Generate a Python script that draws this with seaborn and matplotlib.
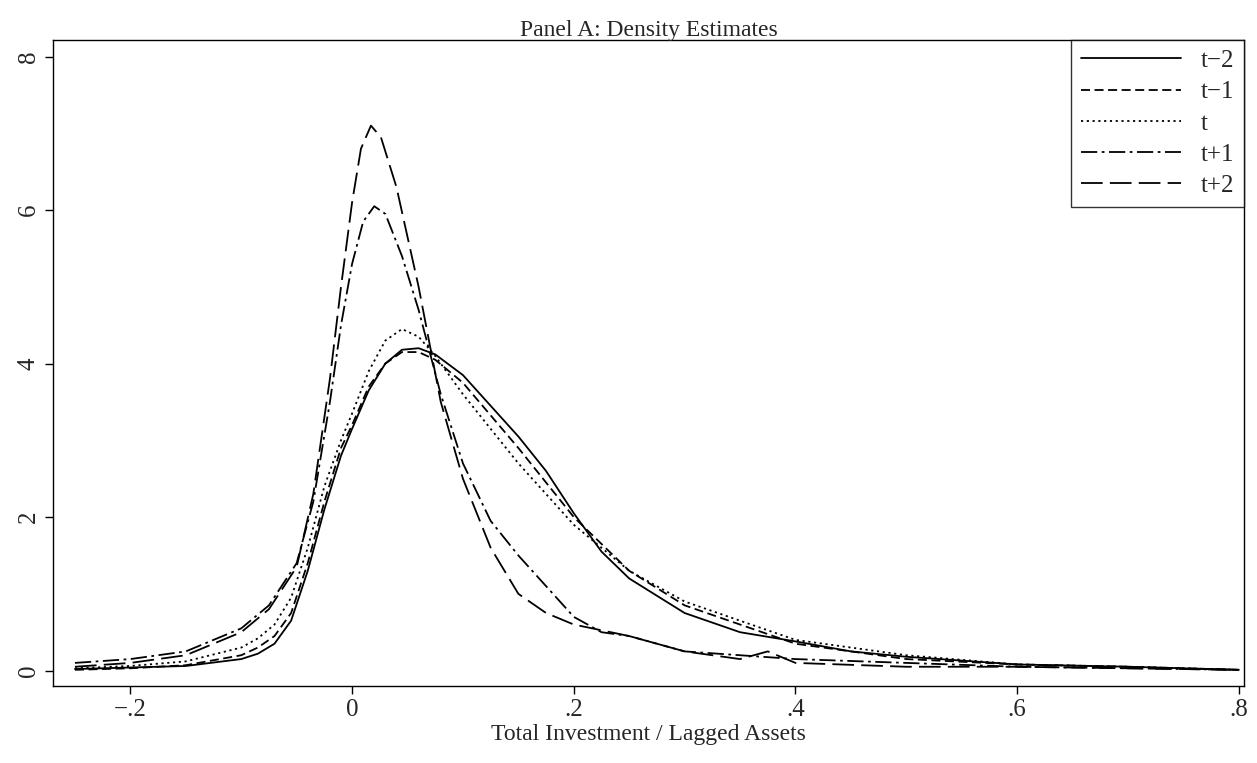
import matplotlib.pyplot as plt
import seaborn as sns
import pandas as pd

# density curves (x = investment / lagged assets)
x_t_m2 = [-0.25, -0.2, -0.15, -0.1, -0.085, -0.07, -0.055, -0.04, -0.025, -0.01, 0, 0.015, 0.03, 0.045, 0.06, 0.075, 0.1, 0.125, 0.15, 0.175, 0.2, 0.225, 0.25, 0.3, 0.35, 0.4, 0.45, 0.5, 0.6, 0.7, 0.8]
y_t_m2 = [0.02, 0.04, 0.06, 0.15, 0.22, 0.35, 0.65, 1.3, 2.1, 2.8, 3.15, 3.65, 4.0, 4.18, 4.2, 4.12, 3.85, 3.45, 3.05, 2.6, 2.05, 1.55, 1.2, 0.75, 0.5, 0.38, 0.25, 0.18, 0.08, 0.05, 0.01]
x_t_m1 = [-0.25, -0.2, -0.15, -0.1, -0.085, -0.07, -0.055, -0.04, -0.025, -0.01, 0, 0.015, 0.03, 0.045, 0.06, 0.075, 0.1, 0.15, 0.2, 0.25, 0.3, 0.35, 0.4, 0.5, 0.6, 0.7, 0.8]
y_t_m1 = [0.01, 0.03, 0.07, 0.2, 0.3, 0.45, 0.75, 1.4, 2.2, 2.9, 3.2, 3.7, 4.0, 4.15, 4.15, 4.05, 3.75, 2.9, 2.0, 1.3, 0.85, 0.6, 0.35, 0.15, 0.08, 0.05, 0.01]
x_t = [-0.25, -0.2, -0.15, -0.1, -0.085, -0.07, -0.055, -0.04, -0.025, -0.01, 0, 0.015, 0.03, 0.045, 0.06, 0.075, 0.1, 0.15, 0.2, 0.25, 0.3, 0.35, 0.4, 0.5, 0.6, 0.7, 0.8]
y_t = [0.03, 0.06, 0.12, 0.3, 0.42, 0.6, 0.95, 1.6, 2.4, 3.0, 3.35, 3.9, 4.3, 4.45, 4.35, 4.1, 3.6, 2.7, 1.9, 1.3, 0.9, 0.65, 0.4, 0.2, 0.08, 0.05, 0.01]
x_t_p1 = [-0.25, -0.2, -0.15, -0.1, -0.075, -0.05, -0.035, -0.02, -0.01, 0, 0.01, 0.02, 0.03, 0.045, 0.06, 0.08, 0.1, 0.125, 0.15, 0.175, 0.2, 0.225, 0.25, 0.3, 0.35, 0.4, 0.5, 0.6, 0.7, 0.8]
y_t_p1 = [0.1, 0.15, 0.25, 0.55, 0.85, 1.4, 2.2, 3.5, 4.5, 5.3, 5.85, 6.05, 5.95, 5.4, 4.7, 3.6, 2.7, 1.95, 1.5, 1.1, 0.7, 0.5, 0.45, 0.25, 0.2, 0.15, 0.1, 0.05, 0.03, 0.01]
x_t_p2 = [-0.25, -0.2, -0.15, -0.1, -0.075, -0.05, -0.035, -0.02, -0.01, 0, 0.008, 0.017, 0.026, 0.04, 0.06, 0.08, 0.1, 0.125, 0.15, 0.175, 0.2, 0.25, 0.3, 0.35, 0.375, 0.4, 0.5, 0.6, 0.7, 0.8]
y_t_p2 = [0.05, 0.1, 0.2, 0.5, 0.8, 1.35, 2.3, 3.8, 5.0, 6.1, 6.8, 7.1, 6.95, 6.3, 5.0, 3.5, 2.5, 1.6, 1.0, 0.75, 0.6, 0.45, 0.25, 0.15, 0.25, 0.1, 0.05, 0.05, 0.03, 0.01]

labels = ['t\u22122', 't\u22121', 't', 't+1', 't+2']
series = [(x_t_m2, y_t_m2), (x_t_m1, y_t_m1), (x_t, y_t), (x_t_p1, y_t_p1), (x_t_p2, y_t_p2)]

frames = []
for lab, (xs, ys) in zip(labels, series):
    frames.append(pd.DataFrame({'x': xs, 'y': ys, 'period': lab}))
df = pd.concat(frames, ignore_index=True)

sns.set_style('white')
plt.rcParams['font.family'] = ['Liberation Serif', 'DejaVu Serif']

fig, ax = plt.subplots(figsize=(12.57, 7.63), dpi=100)
dashes = {
    't\u22122': '',
    't\u22121': (5, 2.5),
    't': (1.2, 2),
    't+1': (9, 2.5, 1.5, 2.5),
    't+2': (12, 4),
}
sns.lineplot(data=df, x='x', y='y', style='period', style_order=labels,
             dashes=dashes, color='black', linewidth=1.3, ax=ax, sort=False)

ax.set_xlim(-0.27, 0.805)
ax.set_ylim(-0.2, 8.22)
ax.set_xticks([-0.2, 0, 0.2, 0.4, 0.6, 0.8])
ax.set_xticklabels(['\u2212.2', '0', '.2', '.4', '.6', '.8'], fontsize=18)
ax.set_yticks([0, 2, 4, 6, 8])
ax.set_yticklabels(['0', '2', '4', '6', '8'], fontsize=18, rotation=90, va='center')
ax.tick_params(axis='both', direction='out', length=6, width=1, color='black', left=True, bottom=True)
for s in ax.spines.values():
    s.set_color('black')
    s.set_linewidth(1)
ax.set_xlabel('Total Investment / Lagged Assets', fontsize=17, labelpad=2)
ax.set_ylabel('')
ax.set_title('Panel A: Density Estimates', fontsize=17, pad=3)

leg = ax.legend(loc='upper right', fontsize=18, handlelength=4, frameon=True,
                fancybox=False, edgecolor='black', borderaxespad=0.0, labelspacing=0.35)
leg.get_frame().set_linewidth(1)
for h in leg.get_lines():
    h.set_color('black')

plt.subplots_adjust(left=0.042, right=0.99, top=0.948, bottom=0.101)
plt.savefig('out.png', dpi=100)
plt.close()
